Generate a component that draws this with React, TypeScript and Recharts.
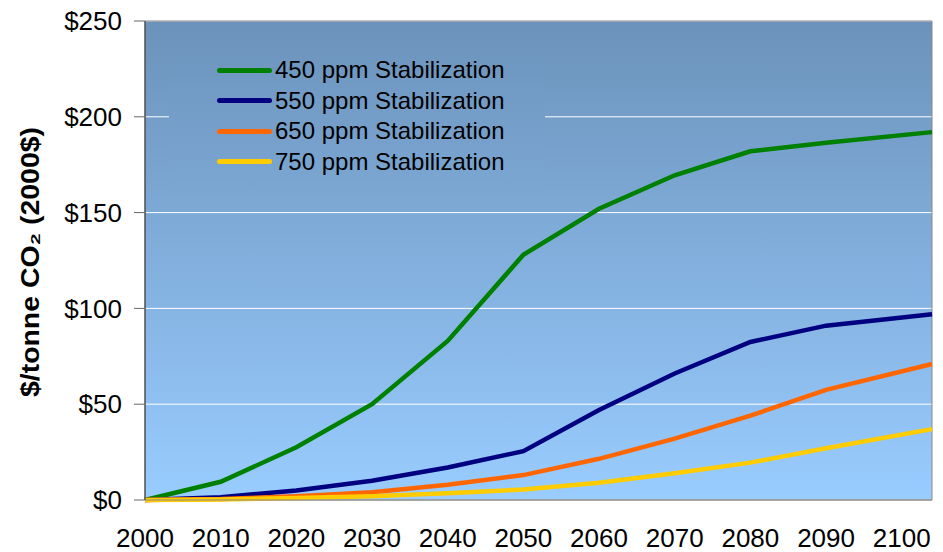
import { LineChart, Line, XAxis, YAxis, CartesianGrid, ReferenceArea } from 'recharts'

// the last point sits at the right edge of the plot, a bit past the 2100 label
const years = [2000, 2010, 2020, 2030, 2040, 2050, 2060, 2070, 2080, 2090, 2104]
const yearTicks = [2000, 2010, 2020, 2030, 2040, 2050, 2060, 2070, 2080, 2090, 2100]
const ppm450 = [0, 9.5, 27.5, 50, 83, 128, 152, 169.5, 182, 186.5, 192]
const ppm550 = [0, 1.5, 5, 10, 17, 25.5, 47, 66, 82.5, 91, 97]
const ppm650 = [0, 0.5, 2, 4, 8, 13, 21.5, 32, 44, 57.5, 71]
const ppm750 = [0, 0.3, 1, 2, 3.5, 5.5, 9, 14, 19.5, 27, 37]
const yTicks = [0, 50, 100, 150, 200, 250]

const series = [
  { key: 'p450', name: '450 ppm Stabilization', color: '#008000' },
  { key: 'p550', name: '550 ppm Stabilization', color: '#000080' },
  { key: 'p650', name: '650 ppm Stabilization', color: '#ff6600' },
  { key: 'p750', name: '750 ppm Stabilization', color: '#ffcc00' },
]

const data = years.map((year, i) => ({
  year,
  p450: ppm450[i],
  p550: ppm550[i],
  p650: ppm650[i],
  p750: ppm750[i],
}))

const font = '"Liberation Sans", Arial, sans-serif'

const YearTick = (props: any) => {
  const { x, payload } = props
  return (
    <text x={x} y={547} textAnchor="middle" fontFamily={font} fontSize={26} fill="#000">
      {payload.value}
    </text>
  )
}

const YLabel = () => (
  <text
    x={0}
    y={0}
    transform="translate(39 262) rotate(-90)"
    textAnchor="middle"
    fontFamily={font}
    fontSize={26}
    fontWeight="bold"
    fill="#000"
    textLength={270}
    lengthAdjust="spacingAndGlyphs"
  >
    $/tonne CO₂ (2000$)
  </text>
)

export default function App() {
  return (
    <div style={{ position: 'absolute', left: 0, top: 0, width: 943, height: 552, background: '#fff' }}>
      <LineChart width={943} height={552} data={data} margin={{ top: 21, right: 11, bottom: 0, left: 0 }}>
        <defs>
          <linearGradient id="plotBg" x1="0" y1="0" x2="0" y2="1">
            <stop offset="0%" stopColor="#6b92ba" />
            <stop offset="100%" stopColor="#99ccff" />
          </linearGradient>
        </defs>
        <CartesianGrid vertical={false} stroke="#ffffff" strokeWidth={1} fill="url(#plotBg)" fillOpacity={1} />
        <XAxis
          dataKey="year"
          type="number"
          domain={[2000, 2104]}
          ticks={yearTicks}
          height={52}
          tickLine={false}
          axisLine={{ stroke: '#888888' }}
          tick={<YearTick />}
          interval={0}
        />
        <YAxis
          domain={[0, 250]}
          ticks={yTicks}
          width={145}
          tickFormatter={(v: number) => `$${v}`}
          tick={{ fill: '#000', fontSize: 26, fontFamily: font }}
          tickLine={{ stroke: '#666666' }}
          tickSize={11}
          tickMargin={12}
          axisLine={{ stroke: '#333333' }}
          label={<YLabel />}
        />
        <ReferenceArea x1={2000} x2={2104} y1={0} y2={250} fill="none" stroke="#888888" ifOverflow="visible" />
        {series.map((s) => (
          <Line
            key={s.key}
            type="linear"
            dataKey={s.key}
            name={s.name}
            stroke={s.color}
            strokeWidth={4.5}
            dot={false}
            activeDot={false}
            isAnimationActive={false}
          />
        ))}
      </LineChart>
      <div
        style={{
          position: 'absolute',
          left: 169,
          top: 45,
          width: 376,
          height: 140,
          background: 'linear-gradient(#6d95be, #7ba6d2)',
        }}
      >
        <div style={{ paddingTop: 10, paddingLeft: 48 }}>
          {series.map((s) => (
            <div key={s.key} style={{ display: 'flex', alignItems: 'center', height: 30.5 }}>
              <div style={{ width: 55, height: 5, borderRadius: 3, background: s.color, marginRight: 3 }} />
              <span style={{ fontFamily: font, fontSize: 24, color: '#000', lineHeight: '30px' }}>{s.name}</span>
            </div>
          ))}
        </div>
      </div>
    </div>
  )
}
